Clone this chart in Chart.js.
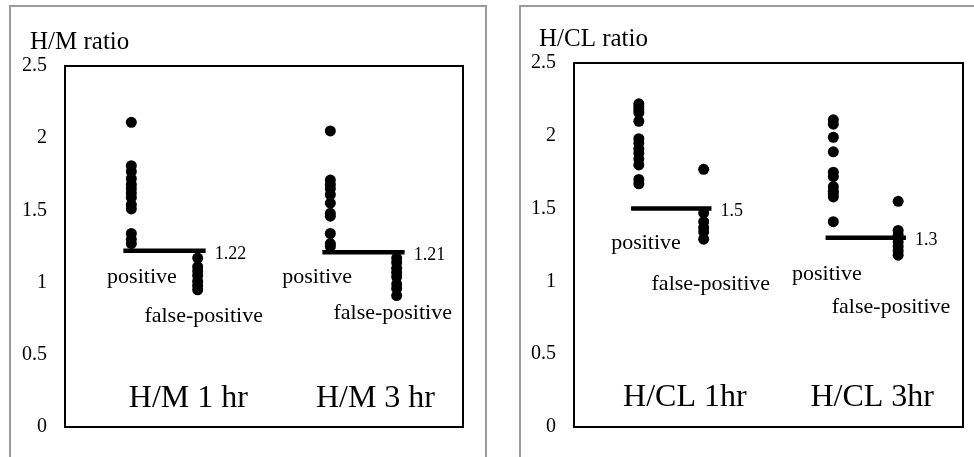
<!DOCTYPE html>
<html>
<head>
<meta charset="utf-8">
<script src="https://cdn.jsdelivr.net/npm/chart.js@4.4.0/dist/chart.umd.min.js"></script>
<style>
  body { margin: 0; background: #fff; width: 974px; height: 457px; overflow: hidden; position: relative; }
  .frame { position: absolute; border: 2px solid #9c9c9c; border-bottom: none; }
  #frameLeft { left: 9px; top: 5px; width: 474px; height: 460px; }
  #frameRight { left: 519px; top: 5px; width: 470px; height: 460px; }
  canvas { position: absolute; top: 0; }
  #hmCanvas { left: 0; }
  #hclCanvas { left: 490px; }
</style>
</head>
<body>
<div class="frame" id="frameLeft"></div>
<div class="frame" id="frameRight"></div>
<canvas id="hmCanvas" width="490" height="457"></canvas>
<canvas id="hclCanvas" width="484" height="457"></canvas>
<script>
// group slots on the hidden x axis: 1hr positive, 1hr false-positive, 3hr positive, 3hr false-positive
var groupSlots = [1, 2, 4, 5];

// H/M ratio
var hm1Positive = [2.11, 1.81, 1.77, 1.72, 1.68, 1.65, 1.62, 1.59, 1.54, 1.51, 1.34, 1.30, 1.27];
var hm1FalsePos = [1.17, 1.11, 1.08, 1.05, 1.01, 0.98, 0.95];
var hm3Positive = [2.05, 1.71, 1.68, 1.65, 1.61, 1.55, 1.48, 1.46, 1.34, 1.27, 1.25];
var hm3FalsePos = [1.17, 1.14, 1.10, 1.07, 1.04, 0.99, 0.96, 0.91];
var hmCutoffs = [1.22, 1.21];
var hmCutoffLabels = ["1.22", "1.21"];
var hmPanelLabels = ["H/M 1 hr", "H/M 3 hr"];

// H/CL ratio
var hcl1Positive = [2.22, 2.20, 2.18, 2.16, 2.10, 1.98, 1.95, 1.91, 1.88, 1.84, 1.80, 1.70, 1.67];
var hcl1FalsePos = [1.77, 1.47, 1.41, 1.37, 1.34, 1.29];
var hcl3Positive = [2.11, 2.08, 1.99, 1.89, 1.75, 1.72, 1.65, 1.62, 1.60, 1.58, 1.41];
var hcl3FalsePos = [1.55, 1.35, 1.32, 1.27, 1.24, 1.21, 1.18];
var hclCutoffs = [1.5, 1.3];
var hclCutoffLabels = ["1.5", "1.3"];
var hclPanelLabels = ["H/CL 1hr", "H/CL 3hr"];

var yTicks = { min: 0, max: 2.5, step: 0.5 };
var serif = "'Liberation Serif', 'Times New Roman', serif";

function toPoints(slot, values) {
  return values.map(function(v) { return { x: slot, y: v }; });
}

function dotSet(slot, values) {
  return {
    type: "scatter",
    data: toPoints(slot, values),
    backgroundColor: "#000",
    borderWidth: 0,
    pointRadius: 5.5
  };
}

function cutoffSet(fromSlot, toSlot, value) {
  return {
    type: "line",
    data: [{ x: fromSlot - 0.12, y: value }, { x: toSlot + 0.12, y: value }],
    borderColor: "#000",
    borderWidth: 4.5,
    pointRadius: 0,
    fill: false
  };
}

// text placed in data units (x slot, y value), drawn after the datasets
var textPlugin = {
  id: "panelText",
  afterDatasetsDraw: function(chart) {
    var cfg = chart.options.plugins.panelText;
    var ctx = chart.ctx;
    var xs = chart.scales.x, ys = chart.scales.y, area = chart.chartArea;
    ctx.save();
    ctx.fillStyle = "#000";
    ctx.textBaseline = "middle";

    // frame around plot area
    ctx.strokeStyle = "#000";
    ctx.lineWidth = 2;
    ctx.strokeRect(area.left, area.top, area.right - area.left, area.bottom - area.top);

    // axis title
    ctx.textAlign = "left";
    ctx.font = "25px " + serif;
    ctx.fillText(cfg.title, area.left - 35, area.top - 24);

    // cutoff values, right of the line end
    ctx.font = "18px " + serif;
    cfg.cutoffs.forEach(function(c, i) {
      var endX = xs.getPixelForValue(groupSlots[i * 2 + 1] + 0.12);
      ctx.fillText(cfg.cutoffLabels[i], endX + 9, ys.getPixelForValue(c) + 3);
    });

    ctx.textAlign = "center";
    ctx.font = "22px " + serif;
    cfg.notes.forEach(function(n) {
      ctx.fillText(n.text, xs.getPixelForValue(n.x), ys.getPixelForValue(n.y));
    });

    ctx.font = "32px " + serif;
    cfg.panelLabels.forEach(function(txt, i) {
      ctx.fillText(txt, xs.getPixelForValue(cfg.panelLabelX[i]), ys.getPixelForValue(0.2));
    });
    ctx.restore();
  }
};

function makeChart(canvasId, sets, cutoffs, padding, axisWidth, textCfg) {
  var datasets = [
    dotSet(groupSlots[0], sets[0]),
    dotSet(groupSlots[1], sets[1]),
    dotSet(groupSlots[2], sets[2]),
    dotSet(groupSlots[3], sets[3]),
    cutoffSet(groupSlots[0], groupSlots[1], cutoffs[0]),
    cutoffSet(groupSlots[2], groupSlots[3], cutoffs[1])
  ];
  return new Chart(document.getElementById(canvasId), {
    type: "scatter",
    data: { datasets: datasets },
    options: {
      responsive: false,
      animation: false,
      layout: { padding: padding },
      plugins: {
        legend: { display: false },
        tooltip: { enabled: false },
        panelText: textCfg
      },
      scales: {
        x: { type: "linear", min: 0, max: 6, display: false },
        y: {
          min: yTicks.min,
          max: yTicks.max,
          grid: { display: false, drawTicks: false },
          border: { display: false },
          ticks: {
            stepSize: yTicks.step,
            color: "#000",
            padding: 18,
            font: { family: serif, size: 20 },
            callback: function(v) { return String(Math.round(v * 10) / 10); }
          },
          afterFit: function(scale) { scale.width = axisWidth; }
        }
      }
    },
    plugins: [textPlugin]
  });
}

makeChart("hmCanvas",
  [hm1Positive, hm1FalsePos, hm3Positive, hm3FalsePos],
  hmCutoffs,
  { left: 0, right: 27, top: 66, bottom: 20 }, 65,
  {
    title: "H/M ratio",
    cutoffs: hmCutoffs,
    cutoffLabels: hmCutoffLabels,
    notes: [
      { text: "positive", x: 1.16, y: 1.04 },
      { text: "false-positive", x: 2.09, y: 0.77 },
      { text: "positive", x: 3.80, y: 1.04 },
      { text: "false-positive", x: 4.94, y: 0.79 }
    ],
    panelLabels: hmPanelLabels,
    panelLabelX: [1.86, 4.68]
  });

makeChart("hclCanvas",
  [hcl1Positive, hcl1FalsePos, hcl3Positive, hcl3FalsePos],
  hclCutoffs,
  { left: 0, right: 11, top: 63, bottom: 20 }, 84,
  {
    title: "H/CL ratio",
    cutoffs: hclCutoffs,
    cutoffLabels: hclCutoffLabels,
    notes: [
      { text: "positive", x: 1.11, y: 1.26 },
      { text: "false-positive", x: 2.11, y: 0.98 },
      { text: "positive", x: 3.90, y: 1.05 },
      { text: "false-positive", x: 4.89, y: 0.82 }
    ],
    panelLabels: hclPanelLabels,
    panelLabelX: [1.71, 4.60]
  });
</script>
</body>
</html>
